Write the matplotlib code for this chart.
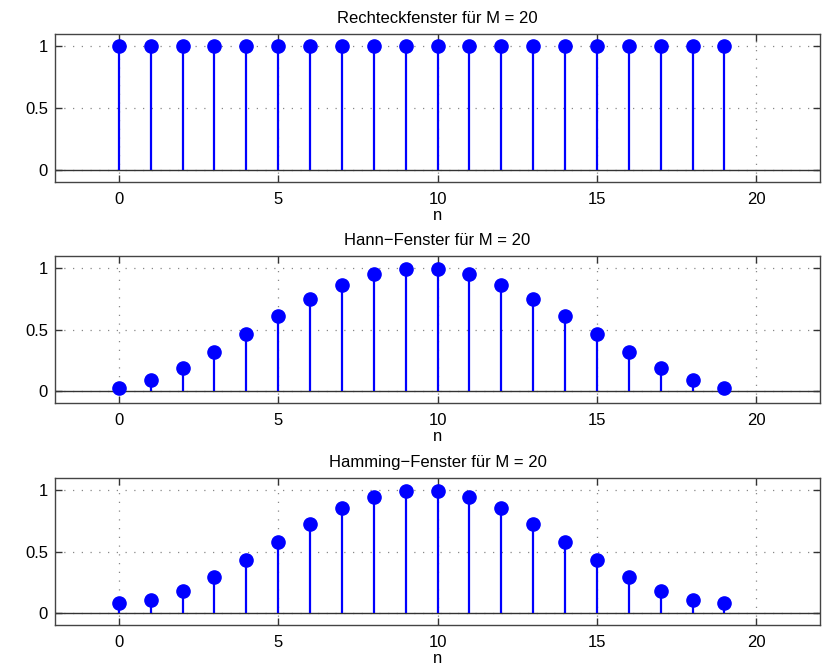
import matplotlib
matplotlib.use("Agg")
import matplotlib.pyplot as plt
import numpy as np

plt.rcParams['font.family'] = ['Liberation Sans', 'DejaVu Sans']

n = list(range(20))
rect_vals = [1.0] * 20
hann_vals = [0.022, 0.087, 0.188, 0.317, 0.463, 0.611, 0.750, 0.867, 0.950, 0.994,
             0.994, 0.950, 0.867, 0.750, 0.611, 0.463, 0.317, 0.188, 0.087, 0.022]
hamming_vals = [0.080, 0.105, 0.177, 0.289, 0.427, 0.578, 0.725, 0.852, 0.945, 0.994,
                0.994, 0.945, 0.852, 0.725, 0.578, 0.427, 0.289, 0.177, 0.105, 0.080]
titles = ["Rechteckfenster für M = 20", "Hann\u2212Fenster für M = 20", "Hamming\u2212Fenster für M = 20"]
xticks = [0, 5, 10, 15, 20]
yticks = [0, 0.5, 1]
yticklabels = ["0", "0.5", "1"]

W, H = 831, 668
fig = plt.figure(figsize=(W / 100, H / 100), dpi=100)

# axes boxes in pixels: (left, top, right, bottom)
boxes = [(55, 34, 820, 182), (55, 256, 820, 403), (55, 478, 820, 625)]
series = [rect_vals, hann_vals, hamming_vals]

for (l, t, r, b), vals, title in zip(boxes, series, titles):
    ax = fig.add_axes([l / W, 1 - b / H, (r - l) / W, (b - t) / H])
    ax.set_xlim(-2, 22)
    ax.set_ylim(-0.1, 1.1)
    ax.grid(True, linestyle=(0, (1, 6)), color='#888888', linewidth=0.9)
    ax.set_axisbelow(True)
    ax.axhline(0, color='#333333', linewidth=1.0, zorder=2)
    ml, sl, bl = ax.stem(n, vals, basefmt=' ')
    plt.setp(sl, color='#0000ff', linewidth=1.6, zorder=3)
    plt.setp(ml, color='#0000ff', markersize=9.5, zorder=4)
    ax.set_xticks(xticks)
    ax.set_yticks(yticks)
    ax.set_yticklabels(yticklabels)
    ax.tick_params(direction='in', top=True, right=True, length=5, width=1.0,
                   color='#333333', labelsize=12, pad=5)
    ax.tick_params(axis='x', pad=7)
    for s in ax.spines.values():
        s.set_color('#444444')
        s.set_linewidth(1.0)
    ax.set_xlabel('n', fontsize=12, labelpad=1)
    ax.set_title(title, fontsize=12, pad=8)

fig.savefig('out.png', dpi=100)
